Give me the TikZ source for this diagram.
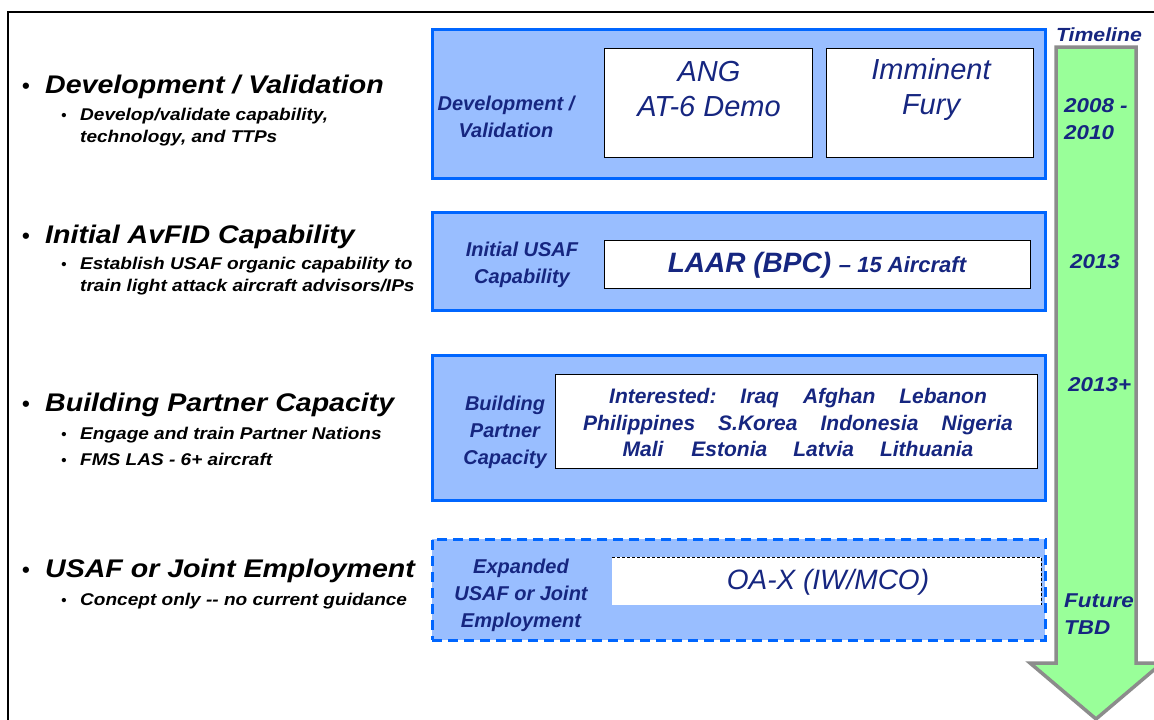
\documentclass[tikz,border=0pt]{standalone}
\usepackage{fontspec}
\setmainfont{Liberation Sans}
\newfontfamily\widefont[FakeStretch=1.12]{Liberation Sans}
\definecolor{boxfill}{RGB}{153,190,255}
\definecolor{boxline}{RGB}{0,102,255}
\definecolor{navy}{RGB}{22,38,128}
\definecolor{arrowfill}{RGB}{153,255,153}
\definecolor{arrowline}{RGB}{140,140,140}
\tikzset{
  bluebox/.style={draw=boxline, fill=boxfill, line width=3pt, inner sep=0pt, outer sep=0pt, anchor=north west},
  whitebox/.style={draw=black, fill=white, line width=1pt, inner sep=0pt, outer sep=0pt, anchor=north west},
  lbl/.style={text=navy, font=\fontsize{20}{27}\selectfont\bfseries\itshape, align=center, inner sep=0pt},
  big/.style={text=navy, font=\fontsize{29}{35}\selectfont\itshape, align=center, inner sep=0pt},
  lst/.style={text=navy, font=\fontsize{21}{26.5}\selectfont\bfseries\itshape, align=center, inner sep=0pt},
  head/.style={anchor=base west, inner sep=0pt, font=\widefont\fontsize{25.5}{30}\selectfont\bfseries\itshape},
  subt/.style={anchor=base west, inner sep=0pt, font=\widefont\fontsize{17}{22}\selectfont\bfseries\itshape},
  hbul/.style={anchor=base, inner sep=0pt, font=\fontsize{22}{22}\selectfont\bfseries},
  sbul/.style={anchor=base, inner sep=0pt, font=\fontsize{15}{15}\selectfont\bfseries},
  tl/.style={text=navy, inner sep=0pt, font=\widefont\fontsize{20}{27}\selectfont\bfseries\itshape},
}
\begin{document}
\begin{tikzpicture}[x=1pt,y=-1pt]
\useasboundingbox (0,0) rectangle (1154,720);
\clip (0,0) rectangle (1154,720);
\fill[white] (0,0) rectangle (1154,720);
% frame
\draw[line width=1.5pt] (8,720) -- (8,12) -- (1154,12);

% timeline arrow
\filldraw[fill=arrowfill, draw=arrowline, line width=3.5pt, line join=miter]
  (1056,47) -- (1136,47) -- (1136,663) -- (1162,663) -- (1096,719) -- (1030,663) -- (1056,663) -- cycle;
\node[tl, font=\widefont\fontsize{19}{22}\selectfont\bfseries\itshape] (tlt) at (1099,35) {Timeline};
\node[tl, anchor=west, align=left] (t1) at (1064,119.5) {2008 -\\2010};
\node[tl] (t2) at (1095,262) {2013};
\node[tl, anchor=west] (t3) at (1068,385) {2013+};
\node[tl, anchor=west, align=left] (t4) at (1064,614) {Future\\TBD};

% left bullets
\node[hbul] (hb1) at (26,93) {•};
\node[head] (h1) at (45,93) {Development / Validation};
\node[sbul] (sb1) at (64,120) {•};
\node[subt] (s1a) at (80,120) {Develop/validate capability,};
\node[subt] (s1b) at (80,142) {technology, and TTPs};

\node[hbul] (hb2) at (26,243) {•};
\node[head] (h2) at (45,243) {Initial AvFID Capability};
\node[sbul] (sb2) at (64,269) {•};
\node[subt] (s2a) at (80,269) {Establish USAF organic capability to};
\node[subt] (s2b) at (80,291) {train light attack aircraft advisors/IPs};

\node[hbul] (hb3) at (26,411) {•};
\node[head] (h3) at (45,411) {Building Partner Capacity};
\node[sbul] (sb3a) at (64,439) {•};
\node[subt] (s3a) at (80,439) {Engage and train Partner Nations};
\node[sbul] (sb3b) at (64,465) {•};
\node[subt] (s3b) at (80,465) {FMS LAS - 6+ aircraft};

\node[hbul] (hb4) at (26,577) {•};
\node[head] (h4) at (45,577) {USAF or Joint Employment};
\node[sbul] (sb4) at (64,605) {•};
\node[subt] (s4) at (80,605) {Concept only -- no current guidance};

% box 1
\node[bluebox, minimum width=613pt, minimum height=149pt] (b1) at (432,29) {};
\node[whitebox, minimum width=208pt, minimum height=109pt] (ang) at (604,48) {};
\node[whitebox, minimum width=207pt, minimum height=109pt] (fury) at (826,48) {};
\node[lbl] (l1) at (506,117) {Development /\\Validation};
\node[big] (angt) at (709,89.5) {ANG\\AT-6 Demo};
\node[big] (furyt) at (931,89.5) {Imminent\\Fury};

% box 2
\node[bluebox, minimum width=613pt, minimum height=98pt] (b2) at (432,212) {};
\node[whitebox, minimum width=426pt, minimum height=48pt] (laar) at (604,240) {};
\node[lbl] (l2) at (522,265) {Initial USAF\\Capability};
\node[text=navy, inner sep=0pt, font=\fontsize{28}{30}\selectfont\bfseries\itshape] (laart) at (817,265)
  {LAAR (BPC) {\fontsize{22}{24}\selectfont -- 15 Aircraft}};

% box 3
\node[bluebox, minimum width=613pt, minimum height=145pt] (b3) at (432,355) {};
\node[whitebox, minimum width=482pt, minimum height=94pt] (pn) at (555,374) {};
\node[lbl] (l3) at (505,432) {Building\\Partner\\Capacity};
\node[lst] (pnt) at (798,422.5) {Interested:\hspace{24pt}Iraq\hspace{24pt}Afghan\hspace{24pt}Lebanon\\
  Philippines\hspace{23pt}S.Korea\hspace{23pt}Indonesia\hspace{23pt}Nigeria\\
  Mali\hspace{28pt}Estonia\hspace{26pt}Latvia\hspace{26pt}Lithuania};

% box 4
\node[bluebox, dash pattern=on 10pt off 6pt, minimum width=613pt, minimum height=101pt] (b4) at (432,539) {};
\node[fill=white, inner sep=0pt, outer sep=0pt, anchor=north west, minimum width=429pt, minimum height=48pt] (oax) at (612,557) {};
\draw[densely dashed, line width=0.9pt] (oax.north west) -- (oax.north east) -- (oax.south east);
\node[lbl] (l4) at (521,595) {Expanded\\USAF or Joint\\Employment};
\node[text=navy, inner sep=0pt, font=\fontsize{28}{30}\selectfont\itshape] (oaxt) at (828,582) {OA-X (IW/MCO)};
\end{tikzpicture}
\end{document}
